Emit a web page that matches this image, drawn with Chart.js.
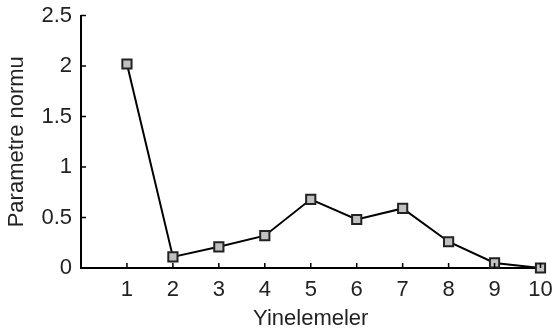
<!DOCTYPE html>
<html>
<head>
<meta charset="utf-8">
<script src="https://cdn.jsdelivr.net/npm/chart.js@4"></script>
<style>
  html, body { margin: 0; padding: 0; background: #fff; }
  #wrap { width: 554px; height: 336px; }
</style>
</head>
<body>
<div id="wrap"><canvas id="myChart"></canvas></div>
<script>
const iteraciones = [1, 2, 3, 4, 5, 6, 7, 8, 9, 10];
const normas = [2.02, 0.11, 0.21, 0.32, 0.68, 0.48, 0.59, 0.26, 0.05, 0.0];
const ticksX = [1, 2, 3, 4, 5, 6, 7, 8, 9, 10];
const ticksY = [0, 0.5, 1, 1.5, 2, 2.5];

const fuente = 'Liberation Sans, Arial, sans-serif';

// marcas de los ejes hacia adentro
const marcasInternas = {
    id: 'marcasInternas',
    afterDraw(chart) {
        const ctx = chart.ctx;
        const x = chart.scales.x;
        const y = chart.scales.y;
        ctx.save();
        ctx.strokeStyle = '#000';
        ctx.lineWidth = 1.5;
        ctx.beginPath();
        ticksX.forEach(v => {
            const px = x.getPixelForValue(v);
            ctx.moveTo(px, y.bottom);
            ctx.lineTo(px, y.bottom - 5);
        });
        ticksY.forEach(v => {
            if (v === 0) return;
            const py = y.getPixelForValue(v);
            ctx.moveTo(x.left, py);
            ctx.lineTo(x.left + 5, py);
        });
        ctx.stroke();
        ctx.restore();
    }
};

const ctx = document.getElementById('myChart').getContext('2d');
new Chart(ctx, {
    type: 'line',
    data: {
        datasets: [{
            data: iteraciones.map((it, i) => ({ x: it, y: normas[i] })),
            borderColor: '#000',
            borderWidth: 2,
            backgroundColor: '#c0c0c0',
            pointStyle: 'rect',
            pointRadius: 6.5,
            pointBorderWidth: 2,
            pointBorderColor: '#222',
            pointBackgroundColor: '#c0c0c0',
            tension: 0,
            fill: false,
            clip: false
        }]
    },
    options: {
        responsive: true,
        maintainAspectRatio: false,
        animation: false,
        layout: { padding: { top: 0, right: 0, left: 4, bottom: 0 } },
        plugins: {
            legend: { display: false },
            tooltip: { enabled: false }
        },
        scales: {
            x: {
                type: 'linear',
                min: 0,
                max: 10,
                afterBuildTicks: (scale) => {
                    scale.ticks = ticksX.map(v => ({ value: v }));
                },
                afterFit: (scale) => {
                    scale.height = 68;
                    scale.paddingRight = 13.5;
                },
                grid: { display: false, drawTicks: false },
                border: { display: true, color: '#000', width: 2 },
                ticks: {
                    color: '#222',
                    font: { family: fuente, size: 22 },
                    padding: 9,
                    maxRotation: 0,
                    autoSkip: false
                },
                title: {
                    display: true,
                    text: 'Yinelemeler',
                    color: '#222',
                    font: { family: fuente, size: 22 },
                    padding: { top: 1, bottom: 4 }
                }
            },
            y: {
                min: 0,
                max: 2.5,
                afterBuildTicks: (scale) => {
                    scale.ticks = ticksY.map(v => ({ value: v }));
                },
                afterFit: (scale) => {
                    scale.width = 77;
                    scale.paddingTop = 15.5;
                },
                grid: { display: false, drawTicks: false },
                border: { display: true, color: '#000', width: 2 },
                ticks: {
                    color: '#222',
                    font: { family: fuente, size: 22 },
                    padding: 9,
                    callback: (v) => String(v)
                },
                title: {
                    display: true,
                    text: 'Parametre normu',
                    color: '#222',
                    font: { family: fuente, size: 22 },
                    padding: { top: 0, bottom: 2 }
                }
            }
        }
    },
    plugins: [marcasInternas]
});
</script>
</body>
</html>
